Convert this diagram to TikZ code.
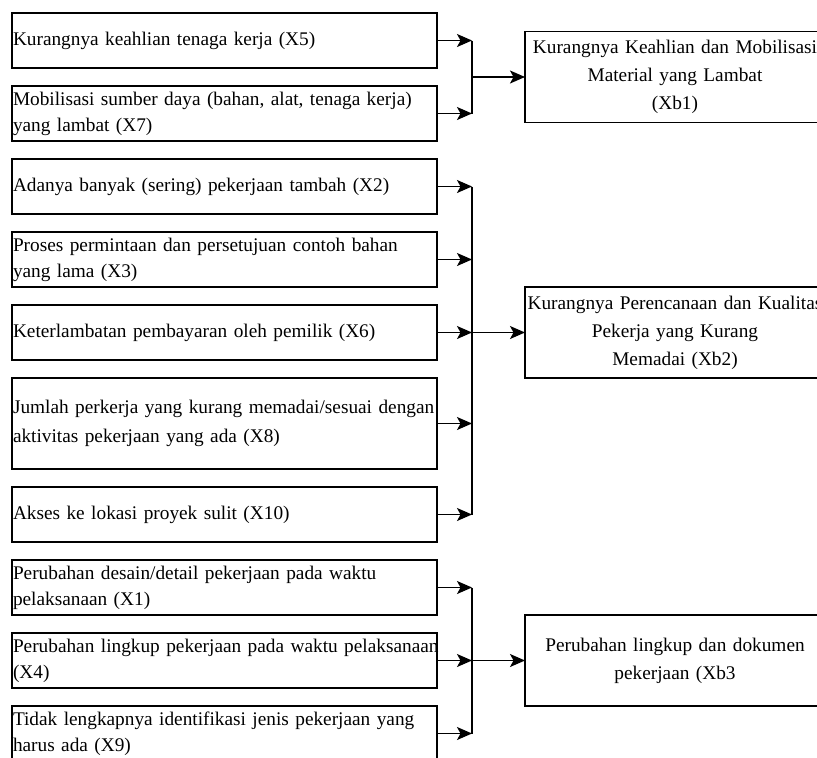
\documentclass[tikz,border=0pt]{standalone}
\usepackage{fontspec}
\setmainfont{Liberation Serif}
\usetikzlibrary{arrows.meta,positioning,calc}

\begin{document}
\begin{tikzpicture}[x=1pt,y=-1pt,node distance=18pt,
    font=\fontsize{19.3}{26}\selectfont,
    cause/.style={draw,line width=1.3pt,minimum width=425pt,minimum height=55pt,
                  text width=423pt,inner xsep=1pt,outer sep=0pt,align=left},
    effect/.style={draw,line width=1.3pt,minimum width=300pt,minimum height=91pt,
                   text width=296pt,inner xsep=2pt,outer sep=0pt,align=center,
                   font=\fontsize{19.3}{28}\selectfont},
    link/.style={line width=1.3pt},
    arr/.style={link,-{Stealth[length=15pt,width=13pt,inset=3.5pt]}}]
   \useasboundingbox (0,0) rectangle (817,758);

   % causes
   \node[cause,anchor=north west] (x5) at (12,13) {Kurangnya keahlian tenaga kerja (X5)};
   \node[cause] (x7) [below=of x5] {Mobilisasi sumber daya (bahan, alat, tenaga kerja)\\yang lambat (X7)};
   \node[cause] (x2) [below=of x7] {Adanya banyak (sering) pekerjaan tambah (X2)};
   \node[cause] (x3) [below=of x2] {Proses permintaan dan persetujuan contoh bahan\\yang lama (X3)};
   \node[cause] (x6) [below=of x3] {Keterlambatan pembayaran oleh pemilik (X6)};
   \node[cause,minimum height=91pt] (x8) [below=of x6] {\mbox{Jumlah perkerja yang kurang memadai/sesuai dengan}\\[3pt]aktivitas pekerjaan yang ada (X8)};
   \node[cause] (x10) [below=of x8] {Akses ke lokasi proyek sulit (X10)};
   \node[cause] (x1) [below=of x10] {Perubahan desain/detail pekerjaan pada waktu\\pelaksanaan (X1)};
   \node[cause] (x4) [below=of x1] {\mbox{Perubahan lingkup pekerjaan pada waktu pelaksanaan}\\(X4)};
   \node[cause] (x9) [below=of x4] {Tidak lengkapnya identifikasi jenis pekerjaan yang\\harus ada (X9)};

   % arrows into the bus lines
   \foreach \c in {x5,x7,x2,x3,x6,x8,x10,x1,x4,x9} {
     \coordinate (\c-in) at ([xshift=35pt]\c.east);
     \draw[arr] (\c) -- (\c-in);
   }
   \draw[link] (x5-in) -- (x7-in);
   \draw[link] (x2-in) -- (x10-in);
   \draw[link] (x1-in) -- (x9-in);
   \coordinate (m1) at ($(x5-in)!.5!(x7-in)$);

   % effects
   \node[effect] (xb1) [right=53pt of m1] {Kurangnya Keahlian dan Mobilisasi\\Material yang Lambat\\(Xb1)};
   \node[effect] (xb2) [right=53pt of x6-in] {Kurangnya Perencanaan dan Kualitas\\Pekerja yang Kurang\\Memadai (Xb2)};
   \node[effect] (xb3) [right=53pt of x4-in] {Perubahan lingkup dan dokumen\\pekerjaan (Xb3};

   \draw[arr] (m1) -- (xb1);
   \draw[arr] (x6-in) -- (xb2);
   \draw[arr] (x4-in) -- (xb3);
\end{tikzpicture}
\end{document}
